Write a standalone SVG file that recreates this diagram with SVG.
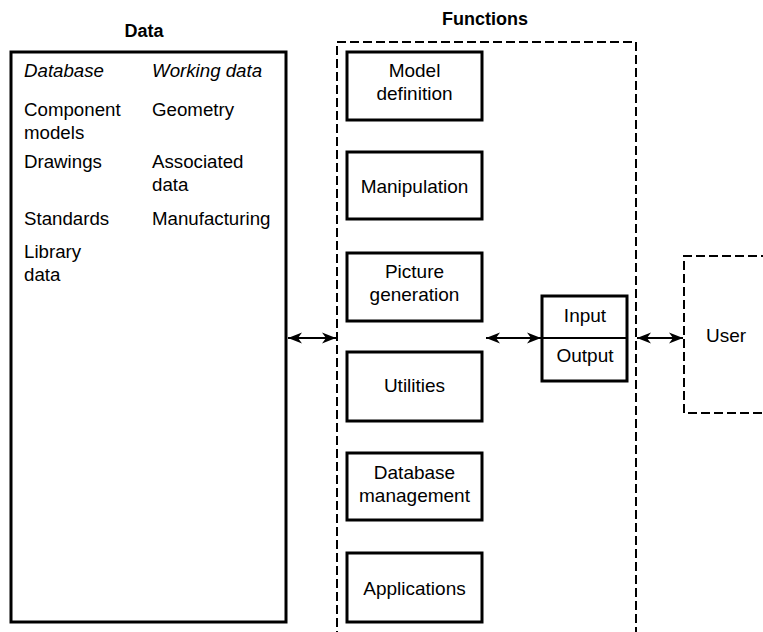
<svg xmlns="http://www.w3.org/2000/svg" width="763" height="632" viewBox="0 0 763 632">
<style>
text{font-family:"Liberation Sans",Arial,sans-serif;font-size:18.7px;fill:#000}
.t{font-weight:bold;font-size:18px;text-anchor:middle}
.i{font-style:italic}
.c{text-anchor:middle;font-size:19px}
.box{fill:#fff;stroke:#000;stroke-width:3}
.dash{fill:none;stroke:#000;stroke-width:2;stroke-dasharray:9,4}
.con{stroke:#000;stroke-width:2;fill:none;marker-start:url(#ah);marker-end:url(#ah)}
</style>
<defs>
<marker id="ah" markerUnits="userSpaceOnUse" markerWidth="15" markerHeight="12" refX="14" refY="6" orient="auto-start-reverse" viewBox="0 0 15 12">
<path d="M0,0.5 L14,6 L0,11.5 L4,6 z" fill="#000"/>
</marker>
</defs>
<rect width="763" height="632" fill="#fff"/>

<g id="data">
<text class="t" x="144" y="37">Data</text>
<rect class="box" x="11" y="52" width="275" height="570"/>
<text class="i" x="24" y="77">Database</text>
<text class="i" x="152" y="77">Working data</text>
<text x="24" y="116">Component</text>
<text x="24" y="139">models</text>
<text x="24" y="168">Drawings</text>
<text x="24" y="225">Standards</text>
<text x="24" y="258">Library</text>
<text x="24" y="281">data</text>
<text x="152" y="116">Geometry</text>
<text x="152" y="168">Associated</text>
<text x="152" y="191">data</text>
<text x="152" y="225">Manufacturing</text>
</g>

<g id="functions">
<text class="t" x="485" y="25">Functions</text>
<path class="dash" d="M337,640 V42 H636 V640"/>
</g>

<g id="model-definition">
<rect class="box" x="347" y="52" width="135" height="68"/>
<text class="c" x="414.5" y="77">Model</text>
<text class="c" x="414.5" y="100">definition</text>
</g>
<g id="manipulation">
<rect class="box" x="347" y="152" width="135" height="67"/>
<text class="c" x="414.5" y="193">Manipulation</text>
</g>
<g id="picture-generation">
<rect class="box" x="347" y="253" width="135" height="68"/>
<text class="c" x="414.5" y="278">Picture</text>
<text class="c" x="414.5" y="301">generation</text>
</g>
<g id="utilities">
<rect class="box" x="347" y="352" width="135" height="69"/>
<text class="c" x="414.5" y="392">Utilities</text>
</g>
<g id="database-management">
<rect class="box" x="347" y="453" width="135" height="67"/>
<text class="c" x="414.5" y="479">Database</text>
<text class="c" x="414.5" y="502">management</text>
</g>
<g id="applications">
<rect class="box" x="347" y="553" width="135" height="69"/>
<text class="c" x="414.5" y="595">Applications</text>
</g>

<g id="input-output">
<rect class="box" x="542" y="296" width="85" height="85"/>
<line x1="542" y1="338" x2="627" y2="338" stroke="#000" stroke-width="2"/>
<text class="c" x="585" y="322">Input</text>
<text class="c" x="585" y="362">Output</text>
</g>

<g id="user">
<path class="dash" d="M770,256 H684 V413 H770"/>
<text class="c" x="726" y="342">User</text>
</g>

<g id="connectors">
<line class="con" x1="288" y1="338" x2="336" y2="338"/>
<line class="con" x1="486" y1="338" x2="541" y2="338"/>
<line class="con" x1="637" y1="338" x2="683" y2="338"/>
</g>
</svg>
